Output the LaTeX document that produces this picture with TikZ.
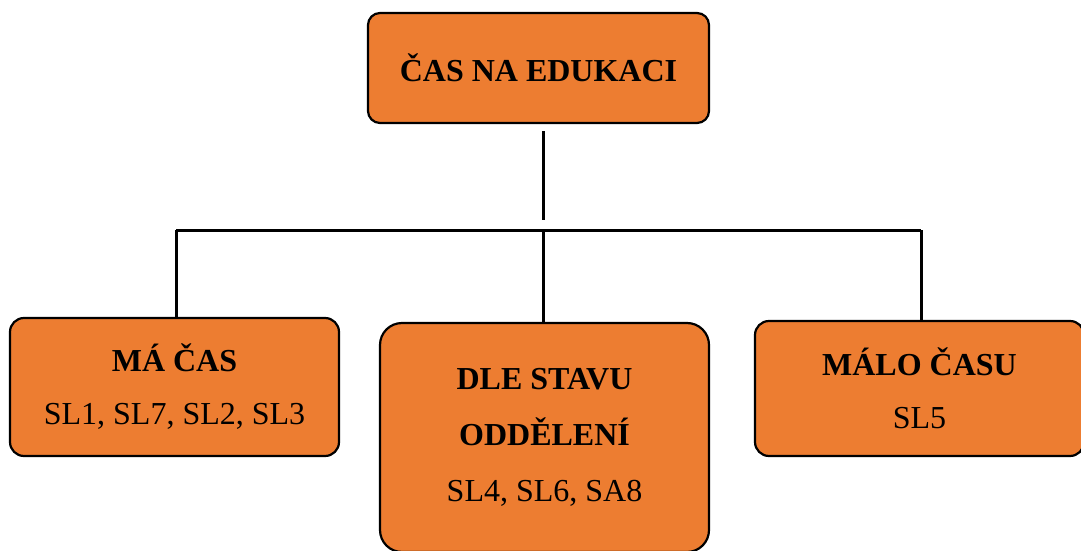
\documentclass[tikz,border=0pt]{standalone}
\usepackage{fontspec}
\setmainfont{Liberation Serif}
\usepackage{tikz}
\definecolor{boxorange}{HTML}{ED7D31}

\begin{document}
\begin{tikzpicture}[x=0.5pt,y=-0.5pt, every node/.style={font=\fontsize{16pt}{26.5pt}\selectfont}]
	\useasboundingbox (0,0) rectangle (1081,551);
	\coordinate (t1) at (538.5,68);
	\coordinate (b1) at (174.5,387);
	\coordinate (b2) at (544.5,437.5);
	\coordinate (b3) at (919.5,388.5);
	\coordinate (stem) at (543,220);
	\coordinate (busl) at (176,230);
	\coordinate (busm) at (543,230);
	\coordinate (busr) at (921,230);
	
	\node (edu) at (t1) [fill=boxorange,draw,line width=1.1pt,rounded corners=6pt,minimum width=170.5pt,minimum height=55pt] {\textbf{ČAS NA EDUKACI}};
	
	\node (macas) at (b1) [fill=boxorange,draw,line width=1.1pt,rounded corners=7pt,minimum width=164.5pt,minimum height=69pt,align=center] {\textbf{MÁ ČAS}\\SL1, SL7, SL2, SL3};
	\node (stav) at (b2) [fill=boxorange,draw,line width=1.1pt,rounded corners=11pt,minimum width=164.5pt,minimum height=114.5pt,align=center,font=\fontsize{16pt}{28pt}\selectfont] {\textbf{DLE STAVU}\\\textbf{ODDĚLENÍ}\\SL4, SL6, SA8};
	\node (malo) at (b3) [fill=boxorange,draw,line width=1.1pt,rounded corners=7pt,minimum width=164.5pt,minimum height=67.5pt,align=center] {\textbf{MÁLO ČASU}\\SL5};
	
	\draw[line width=1.5pt,shorten <=3.5pt] (stem |- edu.south) to[] (stem);
	\draw[line width=1.5pt] (busl) to[] (busm) to[] (busr);
	\draw[line width=1.5pt] (busl) to[] (busl |- macas.north);
	\draw[line width=1.5pt] (busm) to[] (busm |- stav.north);
	\draw[line width=1.5pt] (busr) to[] (busr |- malo.north);
	
\end{tikzpicture}
\end{document}
